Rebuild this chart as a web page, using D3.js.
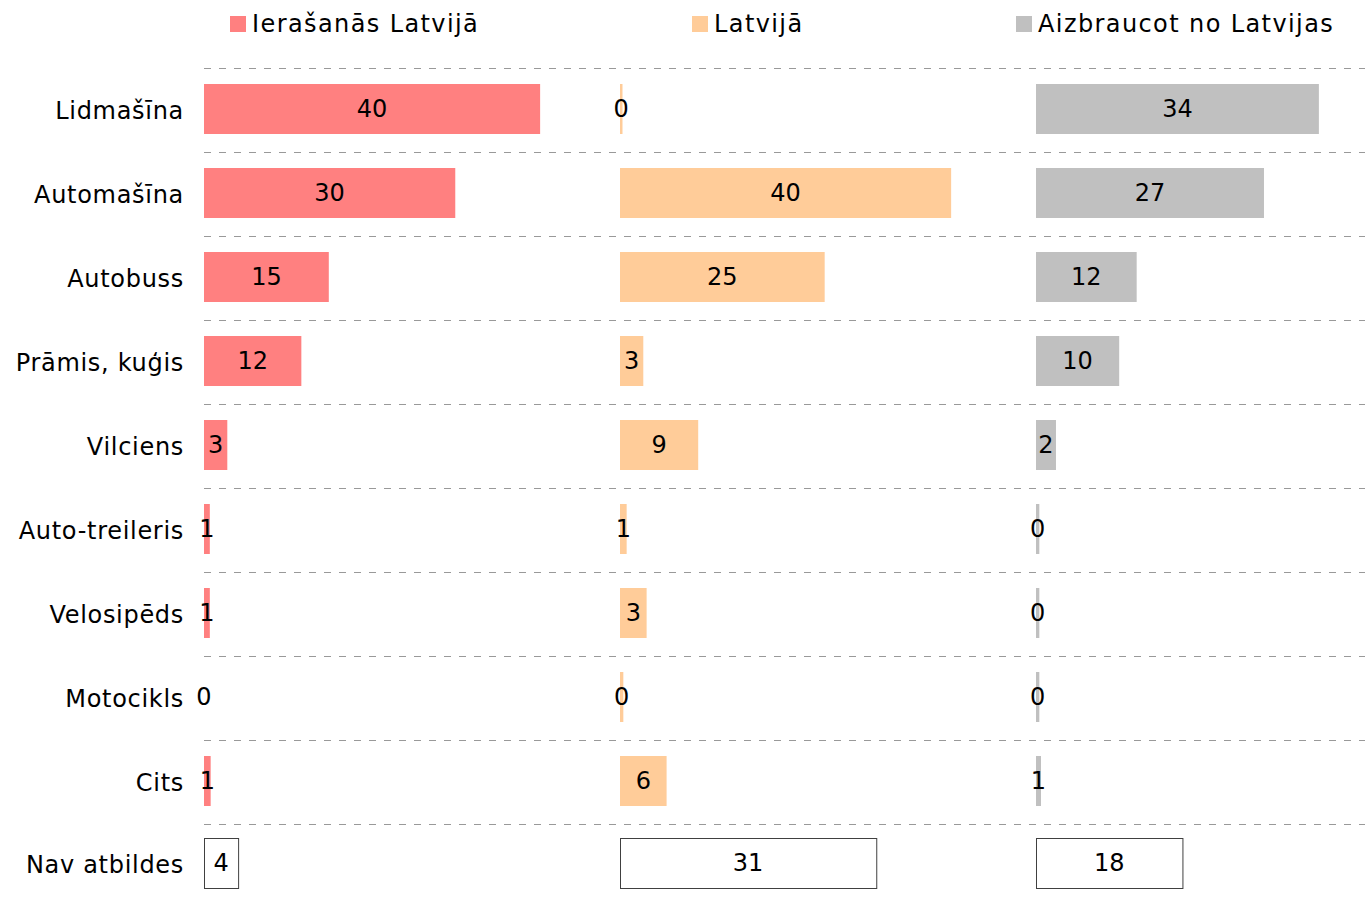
<!DOCTYPE html>
<html>
<head>
<meta charset="utf-8">
<script src="https://d3js.org/d3.v7.min.js"></script>
<style>
  body { margin: 0; background: #fff; }
  text { font-family: "DejaVu Sans", Verdana, sans-serif; font-size: 24px; fill: #000; }
</style>
</head>
<body>
<div id="chart"></div>
<script>
'use strict';

// categories (rows), last one is drawn as an outlined box
const categories = ['Lidmašīna', 'Automašīna', 'Autobuss', 'Prāmis, kuģis', 'Vilciens',
  'Auto-treileris', 'Velosipēds', 'Motocikls', 'Cits', 'Nav atbildes'];

const seriesNames = ['Ierašanās Latvijā', 'Latvijā', 'Aizbraucot no Latvijas'];
const seriesColors = ['#ff8080', '#ffcc99', '#c0c0c0'];

// percentages per series, same order as categories
const arrival = [40.4, 30.2, 15.0, 11.7, 2.8, 0.7, 0.7, 0.0, 0.8, 4.1];
const inLatvia = [0.3, 39.8, 24.6, 2.8, 9.4, 0.8, 3.2, 0.4, 5.6, 30.8];
const departure = [34.0, 27.4, 12.1, 10.0, 2.4, 0.4, 0.4, 0.4, 0.6, 17.6];

const seriesValues = [arrival, inLatvia, departure];

(function() {
  const width = 1365;
  const height = 904;
  const panelLeft = [204, 620, 1036];
  const panelWidth = 416;

  const svg = d3.select('#chart')
    .append('svg')
    .attr('width', width)
    .attr('height', height);

  // 84px per row, 50px bars
  const y = d3.scaleBand()
    .domain(categories)
    .range([67, 67 + 84 * categories.length])
    .paddingInner(34 / 84)
    .paddingOuter(17 / 84);

  const x = d3.scaleLinear().domain([0, 50]).range([0, panelWidth]);
  const fmt = d3.format('.0f');
  const lastCat = categories[categories.length - 1];

  // dashed row separators
  svg.append('g')
    .selectAll('line')
    .data(categories)
    .join('line')
    .attr('x1', 204)
    .attr('x2', width)
    .attr('y1', d => Math.round(y(d) - 16) + 0.5)
    .attr('y2', d => Math.round(y(d) - 16) + 0.5)
    .attr('stroke', '#999')
    .attr('stroke-width', 1)
    .attr('stroke-dasharray', '7,8');

  // category labels
  svg.append('g')
    .selectAll('text')
    .data(categories)
    .join('text')
    .attr('x', 184)
    .attr('y', d => y(d) + y.bandwidth() / 2 + (d === lastCat ? 0 : 2))
    .attr('text-anchor', 'end')
    .attr('dominant-baseline', 'central')
    .style('letter-spacing', '0.7px')
    .text(d => d);

  // bars per panel
  seriesValues.forEach((vals, s) => {
    const rows = categories.map((c, i) => ({ cat: c, value: vals[i] }));
    const g = svg.append('g').attr('transform', `translate(${panelLeft[s]},0)`);

    g.selectAll('rect')
      .data(rows)
      .join('rect')
      .attr('x', d => d.cat === lastCat ? 0.5 : 0)
      .attr('y', d => d.cat === lastCat ? Math.round(y(d.cat)) - 1.5 : y(d.cat))
      .attr('width', d => x(d.value))
      .attr('height', y.bandwidth())
      .attr('fill', d => d.cat === lastCat ? '#fff' : seriesColors[s])
      .attr('stroke', d => d.cat === lastCat ? '#404040' : 'none')
      .attr('stroke-width', 1);

    g.selectAll('text')
      .data(rows)
      .join('text')
      .attr('x', d => x(d.value) / 2)
      .attr('y', d => y(d.cat) + y.bandwidth() / 2 - (d.cat === lastCat ? 2 : 0))
      .attr('text-anchor', 'middle')
      .attr('dominant-baseline', 'central')
      .text(d => fmt(d.value));
  });

  // legend
  const legendX = [230, 692, 1016];
  const legend = svg.append('g')
    .selectAll('g')
    .data(seriesNames)
    .join('g')
    .attr('transform', (d, i) => `translate(${legendX[i]},16)`);

  legend.append('rect')
    .attr('width', 16)
    .attr('height', 16)
    .attr('fill', (d, i) => seriesColors[i]);

  legend.append('text')
    .attr('x', 22)
    .attr('y', 8)
    .attr('dominant-baseline', 'central')
    .style('letter-spacing', '1.4px')
    .text(d => d);
})();
</script>
</body>
</html>
